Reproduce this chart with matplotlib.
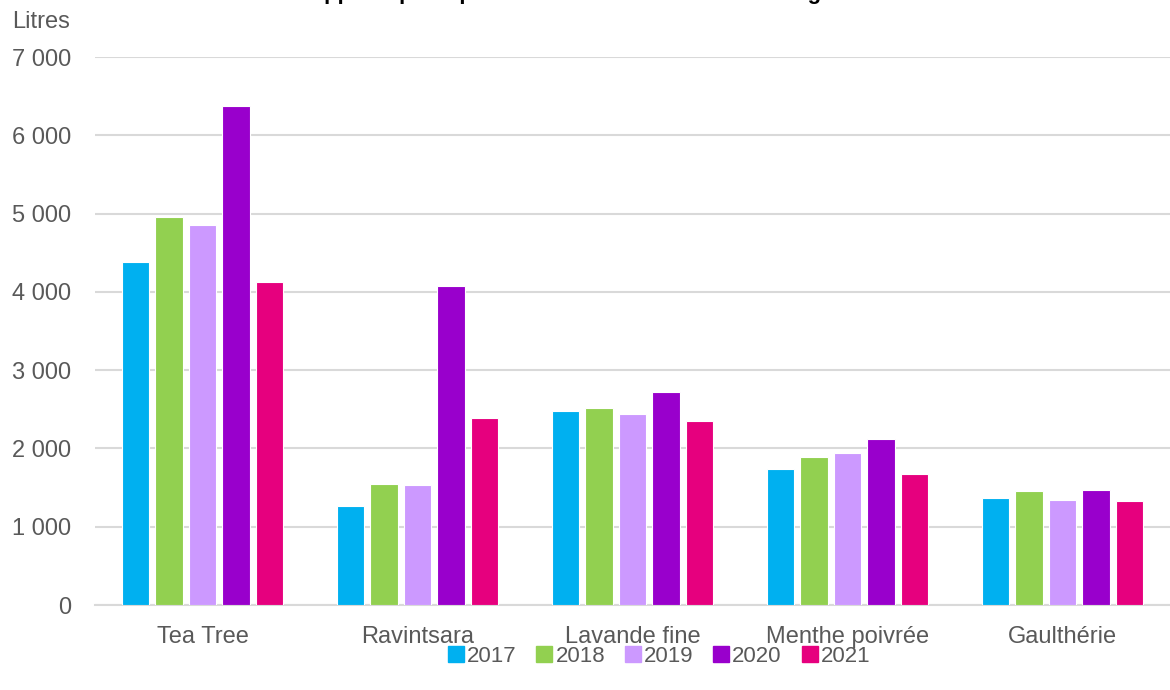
import numpy as np
import matplotlib.pyplot as plt

plt.rcParams['font.family'] = ['Liberation Sans', 'DejaVu Sans']

categories = ["Tea Tree", "Ravintsara", "Lavande fine", "Menthe poivrée", "Gaulthérie"]
years = ["2017", "2018", "2019", "2020", "2021"]
colors = ["#00B0F0", "#92D050", "#CC99FF", "#9900CC", "#E6007E"]

v2017 = [4380, 1265, 2480, 1740, 1365]
v2018 = [4955, 1545, 2515, 1890, 1455]
v2019 = [4855, 1535, 2440, 1940, 1340]
v2020 = [6375, 4075, 2720, 2120, 1470]
v2021 = [4125, 2390, 2350, 1675, 1330]
values = [v2017, v2018, v2019, v2020, v2021]

title = "Apports principaux des huiles essentielles en agriculture"

fig = plt.figure(figsize=(11.7, 6.9), dpi=100)
ax = fig.add_axes([95 / 1170, 1 - 605 / 690, 1 - 95 / 1170, (605 - 57) / 690])

x = np.arange(len(categories))
pitch = 0.156
width = 0.128
for i, (yr, vals, c) in enumerate(zip(years, values, colors)):
    ax.bar(x + (i - 2) * pitch, vals, width, color=c, label=yr,
           edgecolor="white", linewidth=0.8, zorder=3)

fs = 17
ax.set_xlim(-0.5, len(categories) - 0.5)
ax.set_ylim(0, 7000)
ax.set_yticks(range(0, 7001, 1000))
ax.set_yticklabels([f"{v:,}".replace(",", " ") for v in range(0, 7001, 1000)])
ax.set_xticks(x)
ax.set_xticklabels(categories)
ax.tick_params(axis="both", length=0, labelsize=fs, labelcolor="#595959")
ax.tick_params(axis="y", pad=17)
ax.tick_params(axis="x", pad=15)
ax.grid(axis="y", color="#D9D9D9", linewidth=1.5, zorder=0)
for s in ["top", "right", "left"]:
    ax.spines[s].set_visible(False)
ax.spines["bottom"].set_color("#D9D9D9")
ax.spines["bottom"].set_linewidth(1.5)

fig.text(12 / 1170, 1 - 22 / 690, "Litres", fontsize=fs, color="#595959", va="center", ha="left")
fig.text(0.52, 1 + 1 / 690, title, fontsize=16, fontweight="bold", ha="center", va="baseline")

handles = [plt.Line2D([], [], marker="s", linestyle="", color=c, markersize=11) for c in colors]
fig.legend(handles, years, loc="center", bbox_to_anchor=(0.562, 1 - 656 / 690), ncol=5,
           frameon=False, fontsize=16, labelcolor="#595959", handletextpad=0.0,
           columnspacing=0.75, handlelength=1.0)

fig.savefig("out.png", dpi=100)
